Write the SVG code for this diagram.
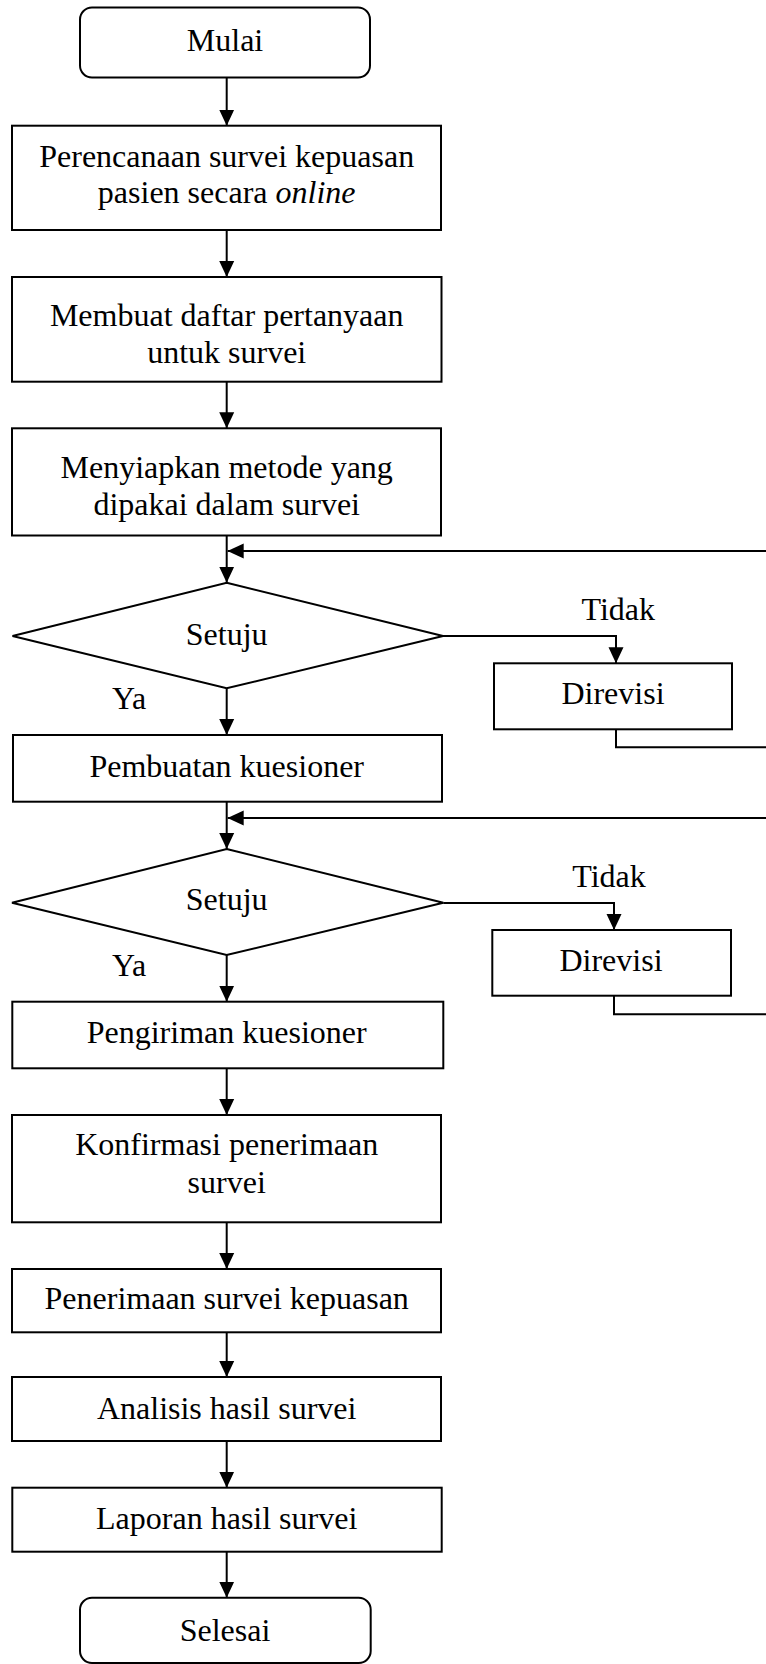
<svg xmlns="http://www.w3.org/2000/svg" width="766" height="1664" viewBox="0 0 766 1664">
<style>
.n{fill:#fff;stroke:#000;stroke-width:2}
.t{font-family:"Liberation Serif","Times New Roman",serif;font-size:32px;fill:#000;text-anchor:middle}
.l{font-family:"Liberation Serif","Times New Roman",serif;font-size:32px;fill:#000}
.c{fill:none;stroke:#000;stroke-width:2}
</style>
<defs>
<marker id="ah" viewBox="0 0 16 16" refX="16" refY="8" markerWidth="16" markerHeight="16" markerUnits="userSpaceOnUse" orient="auto">
<path d="M0,0.5 L16,8 L0,15.5 z" fill="#000"/>
</marker>
</defs>
<rect width="766" height="1664" fill="#fff"/>
<g id="connectors">
<path class="c" d="M226.7,78 V125.7" marker-end="url(#ah)"/>
<path class="c" d="M226.7,230 V277" marker-end="url(#ah)"/>
<path class="c" d="M226.7,381.7 V428.3" marker-end="url(#ah)"/>
<path class="c" d="M226.7,535.5 V582.7" marker-end="url(#ah)"/>
<path class="c" d="M766,551 H227.7" marker-end="url(#ah)"/>
<path class="c" d="M443,636 H616 V663.3" marker-end="url(#ah)"/>
<path class="c" d="M616,729.3 V747.3 H766"/>
<path class="c" d="M226.7,688.3 V735" marker-end="url(#ah)"/>
<path class="c" d="M226.7,801.7 V849" marker-end="url(#ah)"/>
<path class="c" d="M766,818 H227.7" marker-end="url(#ah)"/>
<path class="c" d="M443.3,903 H614 V930" marker-end="url(#ah)"/>
<path class="c" d="M614,995.7 V1014.3 H766"/>
<path class="c" d="M226.7,955 V1001.7" marker-end="url(#ah)"/>
<path class="c" d="M226.7,1068.3 V1115" marker-end="url(#ah)"/>
<path class="c" d="M226.7,1222.3 V1269" marker-end="url(#ah)"/>
<path class="c" d="M226.7,1332.3 V1377" marker-end="url(#ah)"/>
<path class="c" d="M226.7,1441 V1487.7" marker-end="url(#ah)"/>
<path class="c" d="M226.7,1551.7 V1597.7" marker-end="url(#ah)"/>
</g>
<g id="start">
<rect class="n" x="80" y="7.5" width="290" height="70" rx="12"/>
<text class="t" x="225" y="50.7">Mulai</text>
</g>
<g id="perencanaan">
<rect class="n" x="12" y="125.7" width="429" height="104.3"/>
<text class="t" x="226.7" y="166.7">Perencanaan survei kepuasan</text>
<text class="t" x="226.7" y="203.3">pasien secara <tspan font-style="italic">online</tspan></text>
</g>
<g id="membuat">
<rect class="n" x="12" y="277" width="429.5" height="104.7"/>
<text class="t" x="226.7" y="326">Membuat daftar pertanyaan</text>
<text class="t" x="226.7" y="363">untuk survei</text>
</g>
<g id="menyiapkan">
<rect class="n" x="12" y="428.3" width="429" height="107.2"/>
<text class="t" x="226.7" y="478.3">Menyiapkan metode yang</text>
<text class="t" x="226.7" y="515">dipakai dalam survei</text>
</g>
<g id="setuju1">
<polygon class="n" points="226.7,582.7 443,636 226.7,688.3 12.5,636"/>
<text class="t" x="226.7" y="645">Setuju</text>
<text class="l" x="112" y="709.3">Ya</text>
<text class="t" x="618.3" y="620">Tidak</text>
</g>
<g id="direvisi1">
<rect class="n" x="494" y="663.3" width="238" height="66"/>
<text class="t" x="613" y="704">Direvisi</text>
</g>
<g id="pembuatan">
<rect class="n" x="13" y="735" width="429" height="66.7"/>
<text class="t" x="226.7" y="776.7">Pembuatan kuesioner</text>
</g>
<g id="setuju2">
<polygon class="n" points="226.7,849 443.3,902.7 226.7,955 12,902.7"/>
<text class="t" x="226.7" y="910">Setuju</text>
<text class="l" x="112" y="975.7">Ya</text>
<text class="t" x="609" y="887.3">Tidak</text>
</g>
<g id="direvisi2">
<rect class="n" x="492.3" y="930" width="238.7" height="65.7"/>
<text class="t" x="611" y="970.7">Direvisi</text>
</g>
<g id="pengiriman">
<rect class="n" x="12.3" y="1001.7" width="431" height="66.6"/>
<text class="t" x="226.7" y="1042.7">Pengiriman kuesioner</text>
</g>
<g id="konfirmasi">
<rect class="n" x="12" y="1115" width="429" height="107.3"/>
<text class="t" x="226.7" y="1155">Konfirmasi penerimaan</text>
<text class="t" x="226.7" y="1192.7">survei</text>
</g>
<g id="penerimaan">
<rect class="n" x="12" y="1269" width="429" height="63.3"/>
<text class="t" x="226.7" y="1309.3">Penerimaan survei kepuasan</text>
</g>
<g id="analisis">
<rect class="n" x="12" y="1377" width="429" height="64"/>
<text class="t" x="226.7" y="1419">Analisis hasil survei</text>
</g>
<g id="laporan">
<rect class="n" x="12.3" y="1487.7" width="429.4" height="64"/>
<text class="t" x="226.7" y="1529">Laporan hasil survei</text>
</g>
<g id="end">
<rect class="n" x="80" y="1597.7" width="290.7" height="65.3" rx="12"/>
<text class="t" x="225" y="1641">Selesai</text>
</g>
</svg>
